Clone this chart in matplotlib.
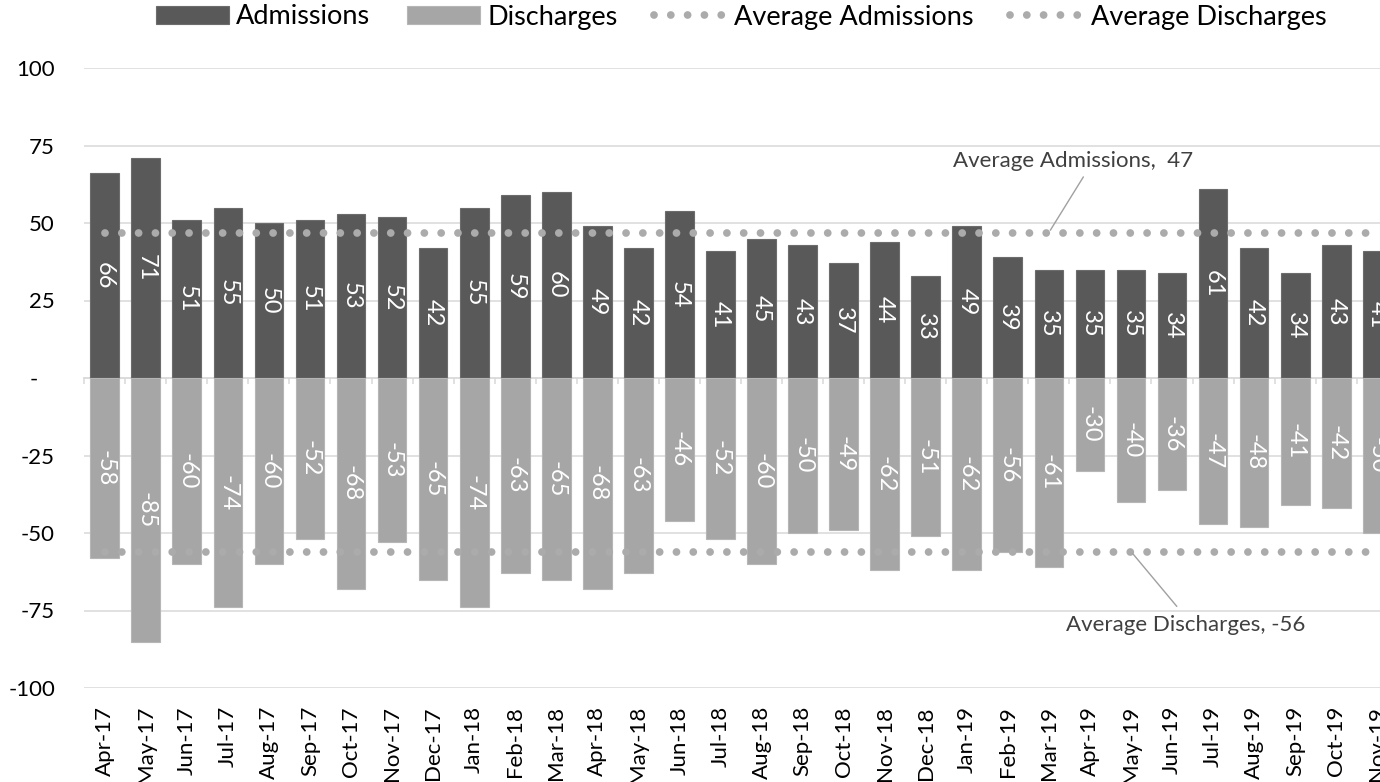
import numpy as np
import matplotlib
matplotlib.use("Agg")
import matplotlib.pyplot as plt
from matplotlib.ticker import FixedLocator, FuncFormatter

plt.rcParams['font.family'] = ['Lato', 'DejaVu Sans']

months = ["Apr-17", "May-17", "Jun-17", "Jul-17", "Aug-17", "Sep-17", "Oct-17", "Nov-17",
          "Dec-17", "Jan-18", "Feb-18", "Mar-18", "Apr-18", "May-18", "Jun-18", "Jul-18",
          "Aug-18", "Sep-18", "Oct-18", "Nov-18", "Dec-18", "Jan-19", "Feb-19", "Mar-19",
          "Apr-19", "May-19", "Jun-19", "Jul-19", "Aug-19", "Sep-19", "Oct-19", "Nov-19"]
admissions = [66, 71, 51, 55, 50, 51, 53, 52, 42, 55, 59, 60, 49, 42, 54, 41,
              45, 43, 37, 44, 33, 49, 39, 35, 35, 35, 34, 61, 42, 34, 43, 41]
discharges = [-58, -85, -60, -74, -60, -52, -68, -53, -65, -74, -63, -65, -68, -63, -46, -52,
              -60, -50, -49, -62, -51, -62, -56, -61, -30, -40, -36, -47, -48, -41, -42, -50]
y_ticks = [-100, -75, -50, -25, 0, 25, 50, 75, 100]

avg_adm = float(np.mean(admissions))
avg_dis = float(np.mean(discharges))

C_ADM = '#595959'
C_DIS = '#a6a6a6'
C_AVG = '#ababab'
C_GRID = '#d9d9d9'

W, H = 1380, 782
fig = plt.figure(figsize=(W / 100, H / 100), dpi=100)
ax = fig.add_axes([84.2 / W, 1 - 688 / H, 32 * 41.05 / W, (688 - 68) / H])

x = np.arange(len(months))
b1 = ax.bar(x, admissions, width=0.70, color=C_ADM, edgecolor='#6c6c6c', linewidth=0.8,
            zorder=2, label='Admissions')
b2 = ax.bar(x, discharges, width=0.70, color=C_DIS, edgecolor='#b6b6b6', linewidth=0.8,
            zorder=2, label='Discharges')

for xi, v in zip(x, admissions):
    ax.text(xi, v / 2, f"{v}", rotation=-90, ha='center', va='center', color='white',
            fontsize=17, zorder=4)
for xi, v in zip(x, discharges):
    ax.text(xi, v / 2, f"{v}", rotation=-90, ha='center', va='center', color='white',
            fontsize=17, zorder=4)

lw = 5.6
l1, = ax.plot(x, [avg_adm] * len(x), color=C_AVG, lw=lw, dashes=(0.001, 2.16),
              dash_capstyle='round', zorder=3, label='Average Admissions')
l2, = ax.plot(x, [avg_dis] * len(x), color=C_AVG, lw=lw, dashes=(0.001, 2.16),
              dash_capstyle='round', zorder=3, label='Average Discharges')

ax.set_xlim(-0.5, len(months) - 0.5)
ax.set_ylim(-100, 100)

# y axis
ax.yaxis.set_major_locator(FixedLocator(y_ticks))
ax.yaxis.set_major_formatter(FuncFormatter(lambda v, p: "-   " if v == 0 else f"{int(v)}"))
ax.tick_params(axis='y', length=0, pad=21, labelsize=16, labelcolor='black')
for yv in y_ticks:
    if yv != 0:
        ax.axhline(yv, color=C_GRID, lw=1.1, zorder=0)

# x axis (zero line with boundary ticks)
for s in ['top', 'right', 'left']:
    ax.spines[s].set_visible(False)
ax.spines['bottom'].set_position(('data', 0))
ax.spines['bottom'].set_color(C_GRID)
ax.spines['bottom'].set_linewidth(1.3)
ax.spines['bottom'].set_zorder(1)
ax.xaxis.set_major_locator(FixedLocator(np.arange(len(months) + 1) - 0.5))
ax.xaxis.set_major_formatter(FuncFormatter(lambda v, p: ""))
ax.tick_params(axis='x', length=4.5, width=1.1, color=C_GRID, direction='out')

sec = ax.secondary_xaxis('bottom')
sec.spines['bottom'].set_visible(False)
sec.set_xticks(x)
sec.set_xticklabels(months, rotation=90, ha='center', va='top')
sec.tick_params(axis='x', length=0, pad=13, labelsize=16, labelcolor='black')

# average labels
ax.annotate(f"Average Admissions,  {avg_adm:.0f}", xy=(23, avg_adm), xytext=(24, 72),
            textcoords='offset pixels', ha='center', va='center', fontsize=16,
            color='#404040', zorder=5,
            arrowprops=dict(arrowstyle='-', color='#a0a0a0', lw=1.0, relpos=(0.56, 0.0),
                            shrinkA=3, shrinkB=2))
ax.annotate(f"Average Discharges, {avg_dis:.0f}", xy=(25, avg_dis), xytext=(55, -73),
            textcoords='offset pixels', ha='center', va='center', fontsize=16,
            color='#404040', zorder=5,
            arrowprops=dict(arrowstyle='-', color='#a0a0a0', lw=1.0, relpos=(0.49, 1.0),
                            shrinkA=5, shrinkB=2))

fig.legend(handles=[b1, b2, l1, l2],
           labels=['Admissions', 'Discharges', 'Average Admissions', 'Average Discharges'],
           ncol=4, loc='center', bbox_to_anchor=(741 / W, 1 - 17 / H), frameon=False,
           fontsize=19.5, handlelength=2.7, handleheight=0.65, handletextpad=0.27,
           columnspacing=1.35, borderaxespad=0, borderpad=0)

fig.savefig("out.png", dpi=100)
